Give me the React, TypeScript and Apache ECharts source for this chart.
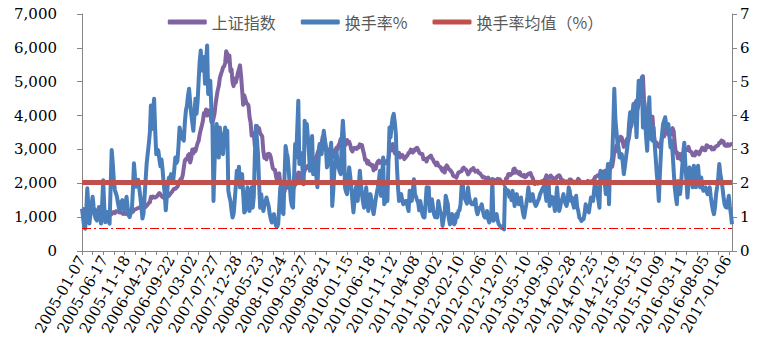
import React, { useEffect, useRef } from 'react';
import * as echarts from 'echarts';

// x-axis tick labels (every 21st weekly observation)
const labelDates = [
  '2005-01-07', '2005-06-17', '2005-11-18', '2006-04-21', '2006-09-22', '2007-03-02',
  '2007-07-27', '2007-12-28', '2008-05-23', '2008-10-24', '2009-03-27', '2009-08-21',
  '2010-01-15', '2010-06-18', '2010-11-12', '2011-04-08', '2011-09-02', '2012-02-10',
  '2012-07-06', '2012-12-07', '2013-05-10', '2013-09-30', '2014-02-28', '2014-07-25',
  '2014-12-19', '2015-05-15', '2015-10-09', '2016-03-11', '2016-08-05', '2017-01-06',
];
const tailDates = ['2017-01-13', '2017-01-20', '2017-01-26', '2017-02-03'];
const weeksPerLabel = 21;

// 上证指数 weekly close (left axis)
const shIndex = [
  1242,1238,1209,1189,1250,1291,1306,1296,1279,1231,1194,1176,1223,1195,1160,1159,1108,1080,1061,1013,1103,
  1081,1107,1066,1028,1020,1041,1083,1091,1139,1150,1120,1173,1167,1166,1141,1155,1134,1112,1093,1105,1095,
  1099,1098,1097,1135,1140,1135,1161,1209,1225,1240,1258,1266,1285,1299,1288,1264,1292,1293,1299,1335,1375,
  1420,1440,1600,1565,1610,1590,1580,1600,1625,1672,1710,1680,1625,1585,1600,1573,1585,1605,1658,1630,1680,
  1720,1753,1806,1840,1840,1870,1900,1980,2060,2120,2130,2240,2460,2675,2715,2706,2820,2860,2612,2730,2998,
  2882,3014,2946,3074,3184,3253,3443,3585,3705,3841,4073,4030,4181,4000,4150,4152,4091,3820,3781,3914,4058,
  4345,4560,4750,4870,5108,5218,5314,5421,5454,5552,5903,5818,5589,5777,5316,5368,4980,4871,5091,4978,5101,
  5262,5362,5484,5181,4762,4320,4599,4497,4370,4348,4300,3962,3796,3411,3446,3472,3094,3557,3693,3613,3624,
  3473,3433,3379,2958,2748,2748,2704,2860,2871,2862,2776,2605,2443,2405,2397,2202,2079,2075,2293,2000,1930,
  1838,1729,1747,1986,1931,1871,2000,2003,1994,1853,1821,1904,1954,1990,2181,2320,2306,2082,2193,2128,2281,
  2374,2444,2445,2513,2465,2477,2560,2647,2610,2633,2753,2739,2880,2958,3088,3166,3189,3372,3412,3260,3046,
  2960,2860,2860,3026,3060,2880,2779,2911,2976,3050,2995,3130,3187,3308,3096,3322,3251,3113,3154,3277,3196,
  3224,3128,2990,2939,3018,3051,3031,3013,3068,3059,3152,3130,3130,2979,2870,2688,2697,2583,2655,2554,2569,
  2514,2535,2382,2470,2424,2573,2638,2672,2605,2643,2611,2655,2663,2598,2588,2656,2738,2971,2976,2978,3159,
  2985,2888,2871,2843,2866,2895,2763,2808,2839,2791,2715,2752,2798,2828,2900,2905,2995,2937,2906,2985,2967,
  3030,3050,2999,2911,2872,2871,2859,2709,2728,2705,2643,2746,2762,2797,2820,2742,2701,2626,2593,2534,2612,
  2528,2498,2482,2416,2359,2431,2317,2473,2528,2481,2416,2397,2360,2315,2224,2204,2199,2163,2244,2319,2330,
  2351,2357,2439,2460,2421,2405,2349,2263,2302,2359,2406,2397,2452,2394,2344,2350,2373,2306,2306,2260,2226,
  2170,2185,2168,2128,2133,2168,2114,2092,2047,2127,2110,2026,2086,2105,2128,2066,2117,2069,2015,2021,1980,
  2033,2150,2153,2269,2276,2243,2284,2291,2419,2433,2314,2359,2318,2278,2328,2237,2225,2206,2245,2177,2205,
  2247,2283,2288,2301,2210,2162,2073,1979,2007,2040,1992,2010,2029,2053,2068,2058,2098,2140,2236,2191,2160,
  2175,2228,2193,2133,2149,2106,2135,2197,2220,2238,2196,2085,2101,2083,2013,2004,2054,2033,2044,2115,2113,
  2056,2057,2004,2047,2042,2058,2131,2097,2036,2026,2011,2026,2034,2039,2029,2070,2024,2036,2060,2047,2059,
  2126,2185,2194,2226,2240,2217,2326,2331,2329,2347,2364,2375,2341,2302,2420,2418,2478,2487,2683,2938,2938,
  3108,3157,3235,3285,3376,3351,3210,3076,3203,3247,3311,3241,3373,3617,3691,3864,4034,4287,4393,4441,4205,
  4308,4658,4612,5023,5166,4478,4193,3687,3878,3957,4071,3664,3744,3965,3508,3232,3160,3200,3097,3093,3053,
  3183,3391,3412,3383,3590,3632,3630,3436,3525,3435,3579,3628,3539,3186,2900,2916,2737,2763,2860,2688,2874,
  2810,2955,2979,3010,2985,3078,2960,2938,2913,2828,2826,2822,2938,2927,2885,2854,2933,2989,3054,3013,2979,
  2977,3125,3108,3070,3067,3079,3003,3033,3005,3064,3091,3104,3125,3196,3193,3262,3244,3232,3123,3110,3104,
  3154,3113,3123,3159,3140,
];

// 换手率% weekly (right axis)
const turnover = [
  1.25,1.0,0.72,0.66,1.2,1.85,1.3,0.81,1.1,1.35,1.6,1.3,1.06,0.95,0.9,1.15,1.3,1.0,0.81,1.4,2.09,
  1.3,0.85,1.15,1.15,0.9,0.81,1.9,2.98,2.6,2.09,1.8,1.7,1.6,1.4,1.25,1.2,1.45,1.5,1.3,1.2,1.4,
  1.6,1.3,1.05,1.0,1.15,1.2,1.8,2.59,2.2,1.9,2.09,2.1,1.85,1.6,1.3,0.96,1.1,1.6,2.1,2.59,2.88,
  3.16,3.5,4.3,3.6,4.1,4.5,3.6,2.86,3.0,2.96,2.7,2.5,2.7,2.4,2.0,1.7,1.2,1.6,2.0,2.17,2.1,
  2.27,2.15,2.07,2.4,2.76,2.6,2.66,3.1,3.65,3.5,3.45,3.3,3.26,3.8,4.15,4.3,4.6,4.79,4.4,4.05,3.8,
  3.55,4.0,4.5,4.05,4.4,5.03,5.6,5.92,5.33,5.5,5.73,4.94,5.6,6.07,4.64,4.9,5.03,4.2,3.75,1.48,2.6,
  3.26,3.75,3.2,2.76,3.65,3.3,3.45,2.86,3.3,3.65,3.4,3.55,1.78,1.6,1.48,1.2,0.99,1.1,1.48,1.9,2.37,
  2.1,2.49,1.88,2.1,2.27,1.7,1.14,1.18,1.5,1.88,1.5,1.18,1.5,1.88,1.28,1.6,2.8,3.7,3.3,2.86,2.0,
  1.28,1.68,1.4,1.18,1.35,1.45,1.58,1.45,1.33,1.1,0.95,0.84,0.95,1.09,0.9,0.74,0.72,0.79,1.3,1.88,1.28,
  1.15,1.09,2.2,3.1,2.9,2.76,2.37,1.9,1.5,1.33,1.28,2.2,3.16,2.76,3.6,4.44,2.57,2.9,2.86,2.4,1.97,
  3.85,3.5,3.75,3.36,2.9,2.37,2.9,3.4,2.27,2.5,2.67,2.2,1.88,2.6,3.16,3.0,2.86,3.2,3.55,3.3,3.06,
  2.47,2.55,2.67,2.9,3.2,1.33,1.8,2.37,2.6,2.96,2.6,2.47,2.35,2.27,3.3,3.85,3.36,1.88,1.75,1.68,2.1,
  2.47,2.2,1.88,1.5,1.14,1.5,1.8,1.97,1.48,1.9,2.37,2.0,1.68,1.45,1.28,1.6,1.88,1.5,1.18,1.4,1.68,
  1.5,1.28,1.09,1.3,1.53,1.7,1.88,2.1,2.37,1.63,2.2,2.76,1.38,1.45,1.48,1.48,2.6,3.65,3.36,3.7,3.95,
  4.05,3.8,3.45,2.5,1.88,1.48,1.6,1.68,1.5,1.38,1.45,1.48,1.48,1.3,1.18,1.78,1.6,1.48,1.8,2.12,1.68,
  1.6,1.5,1.43,1.2,1.48,1.3,1.09,1.0,0.99,1.4,1.88,1.7,1.88,1.18,1.35,1.53,1.3,1.09,1.0,1.05,0.99,
  1.48,1.3,1.15,1.09,0.74,0.95,1.09,1.63,1.5,1.38,0.95,0.79,0.85,1.09,0.9,0.79,0.85,1.09,1.0,1.18,1.2,
  1.38,1.92,2.0,1.68,1.55,1.48,1.4,1.88,1.6,1.48,1.4,1.38,1.38,1.45,1.53,1.2,1.09,1.2,1.28,1.3,1.38,
  1.2,1.05,0.99,1.1,1.18,0.95,0.84,0.95,1.09,2.1,0.89,0.95,1.05,1.09,0.9,0.79,0.75,0.69,0.72,0.66,0.64,
  1.88,1.7,1.8,1.78,1.6,1.68,1.5,1.78,1.6,1.33,1.5,1.68,1.5,1.38,1.45,1.58,1.3,1.1,0.99,1.2,1.38,
  1.6,1.88,1.6,1.48,1.55,1.68,1.5,1.4,1.33,1.4,1.48,1.55,1.68,1.75,1.82,1.88,1.92,1.7,1.48,1.9,2.12,
  1.33,1.45,1.6,1.58,1.4,1.18,1.5,1.88,1.5,1.18,1.3,1.48,1.55,1.68,1.5,1.4,1.33,1.5,1.88,1.78,1.48,
  1.58,1.4,1.28,1.45,1.63,1.3,1.18,0.99,0.95,0.89,0.92,0.94,1.1,1.38,1.25,1.2,1.14,1.35,1.58,1.5,1.48,
  1.8,2.07,1.85,1.68,1.5,1.28,2.37,2.2,2.17,2.27,2.0,1.68,2.1,2.57,1.38,2.57,2.6,2.76,3.65,4.79,3.9,
  3.55,3.2,3.06,2.76,2.8,2.86,2.6,2.27,2.5,2.76,3.0,3.26,3.8,4.1,3.75,4.0,4.34,4.2,4.05,3.36,4.3,
  5.03,4.94,4.8,5.13,3.65,4.44,3.9,3.36,2.96,3.8,4.54,3.55,3.3,3.26,3.65,3.2,2.76,2.3,1.97,1.48,2.27,
  2.9,3.45,3.75,3.85,3.95,3.7,3.65,3.75,3.4,3.06,3.26,2.9,2.37,1.88,1.6,1.38,2.07,1.9,1.68,2.0,2.47,
  2.9,3.2,2.57,2.1,1.58,2.0,2.47,2.27,2.1,1.88,2.52,2.2,1.88,2.3,2.52,2.1,1.88,2.17,1.9,1.78,1.85,
  1.88,1.75,1.68,1.8,1.88,1.6,1.38,1.2,1.09,1.3,1.68,1.9,2.17,2.57,2.27,2.1,1.88,1.6,1.38,1.3,1.28,
  1.45,1.63,1.3,1.09,0.79,
];

// 换手率均值（%） and the low reference level
const turnoverAvg = 2.03;
const turnoverLow = 0.66;

const seriesNames = ['上证指数', '换手率%', '换手率均值（%）'];

function buildCategories(): string[] {
  const out: string[] = [];
  const day = 86400000;
  for (let i = 0; i < labelDates.length - 1; i++) {
    const t0 = Date.parse(labelDates[i] + 'T00:00:00Z');
    for (let k = 0; k < weeksPerLabel; k++) {
      out.push(k === 0 ? labelDates[i] : new Date(t0 + k * 7 * day).toISOString().slice(0, 10));
    }
  }
  out.push(labelDates[labelDates.length - 1]);
  return out.concat(tailDates);
}

export default function App() {
  const ref = useRef<HTMLDivElement>(null);
  useEffect(() => {
    if (!ref.current) return;
    const chart = echarts.init(ref.current, undefined, { renderer: 'svg' });
    const cats = buildCategories();
    const axisColor = '#868686';
    const numFont = 'DejaVu Serif';
    chart.setOption({
      animation: false,
      backgroundColor: '#ffffff',
      legend: {
        data: seriesNames,
        top: 9,
        left: 'center',
        icon: 'roundRect',
        itemWidth: 39,
        itemHeight: 5,
        itemGap: 25,
        textStyle: { fontFamily: 'Noto Sans CJK SC', fontSize: 16, color: '#595959' },
      },
      grid: { left: 82, right: 39, top: 14, bottom: 107, containLabel: false, outerBoundsMode: 'none' },
      xAxis: {
        type: 'category',
        data: cats,
        boundaryGap: false,
        axisLine: { lineStyle: { color: axisColor, width: 1 } },
        axisTick: { show: true, interval: 9, length: 4, lineStyle: { color: axisColor } },
        axisLabel: {
          interval: weeksPerLabel - 1,
          rotate: 60,
          fontFamily: numFont,
          fontSize: 15,
          color: '#000',
          margin: 6,
          hideOverlap: false,
        },
        splitLine: { show: false },
      },
      yAxis: [
        {
          type: 'value',
          min: 0,
          max: 7000,
          interval: 1000,
          axisLine: { show: true, lineStyle: { color: axisColor } },
          axisTick: { show: true, length: 5, lineStyle: { color: axisColor } },
          axisLabel: {
            fontFamily: numFont,
            fontSize: 15,
            color: '#000',
            margin: 25,
            formatter: (v: number) => v.toLocaleString('en-US'),
          },
          splitLine: { show: false },
        },
        {
          type: 'value',
          position: 'right',
          min: 0,
          max: 7,
          interval: 1,
          axisLine: { show: true, lineStyle: { color: axisColor } },
          axisTick: { show: true, length: 5, lineStyle: { color: axisColor } },
          axisLabel: { fontFamily: numFont, fontSize: 15, color: '#000', margin: 8 },
          splitLine: { show: false },
        },
      ],
      series: [
        {
          name: seriesNames[0],
          type: 'line',
          yAxisIndex: 0,
          data: shIndex,
          showSymbol: false,
          color: '#8064A2',
          lineStyle: { color: '#8064A2', width: 4, join: 'round' },
        },
        {
          name: seriesNames[1],
          type: 'line',
          yAxisIndex: 1,
          data: turnover,
          showSymbol: false,
          color: '#4A7EBB',
          lineStyle: { color: '#4A7EBB', width: 4, join: 'round' },
        },
        {
          name: seriesNames[2],
          type: 'line',
          yAxisIndex: 1,
          data: [],
          showSymbol: false,
          color: '#C0504D',
          lineStyle: { color: '#C0504D', width: 5 },
          markLine: {
            silent: true,
            symbol: ['none', 'none'],
            label: { show: false },
            data: [
              { yAxis: turnoverAvg, lineStyle: { color: '#C0504D', width: 5, type: 'solid' } },
              { yAxis: turnoverLow, lineStyle: { color: '#FF0000', width: 1.2, type: [9, 3, 2, 3] } },
            ],
          },
        },
      ],
    });
    return () => chart.dispose();
  }, []);
  return (
    <div
      ref={ref}
      style={{ position: 'absolute', left: 0, top: 0, width: 771, height: 358, background: '#fff' }}
    />
  );
}
